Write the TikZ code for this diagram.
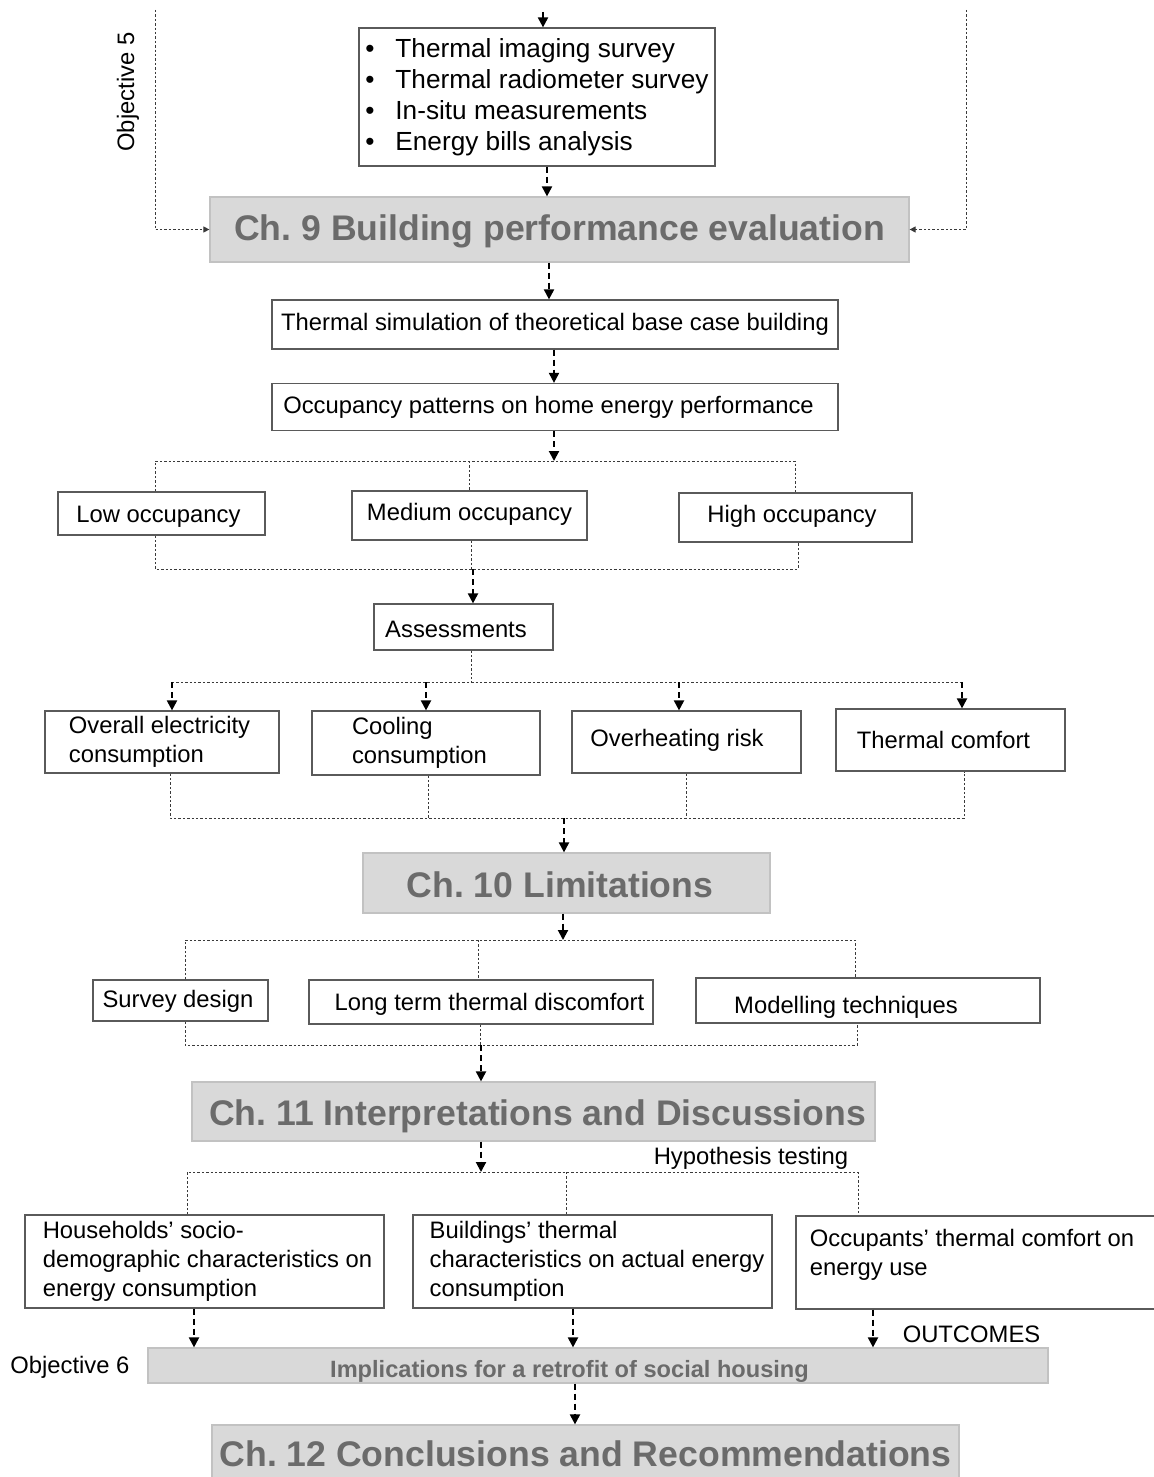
\documentclass[tikz,border=0pt]{standalone}
\usepackage{fontspec}
\setmainfont{Liberation Sans}
\usetikzlibrary{arrows.meta}
\definecolor{hfill}{HTML}{D9D9D9}
\definecolor{hdraw}{HTML}{C2C2C2}
\definecolor{htext}{HTML}{6B6B6B}
\definecolor{bdraw}{HTML}{5A5A5A}
\definecolor{dotc}{HTML}{3A3A3A}
\frenchspacing
\begin{document}
\begin{tikzpicture}[x=0.5pt,y=-0.5pt,
  box/.style={draw=bdraw, line width=0.6pt, fill=white, inner sep=0pt,
    font=\fontsize{11.9}{14.5}\selectfont, align=left},
  % single-line boxes: caps centred on the box
  one/.style={text height=8.6pt, text depth=0pt},
  head/.style={draw=hdraw, line width=0.6pt, fill=hfill, inner sep=0pt,
    text=htext, font=\bfseries\fontsize{17.8}{20}\selectfont,
    text height=12.7pt, text depth=0pt},
  flow/.style={line width=1pt, dash pattern=on 3pt off 2pt,
    -{Triangle[width=5pt,length=5pt]}},
  link/.style={draw=dotc, line width=0.5pt, dash pattern=on 1.2pt off 1pt},
  side/.style={link, -{Triangle[width=3pt,length=3pt]}},
  lbl/.style={inner sep=0pt, font=\fontsize{11.9}{14.5}\selectfont},
]
\useasboundingbox (0,0) rectangle (1153,1477);

% ---- boxes ----
\node[box, minimum width=178pt, minimum height=69pt,
  font=\fontsize{13.1}{15.5}\selectfont] (methods) at (537,97)
  {\makebox[15pt][l]{•}Thermal imaging survey\\
   \makebox[15pt][l]{•}Thermal radiometer survey\\
   \makebox[15pt][l]{•}In-situ measurements\\
   \makebox[15pt][l]{•}Energy bills analysis};
\node[head, minimum width=349.5pt, minimum height=32.5pt, text depth=1.5pt] (ch9) at (559.5,229.5)
  {Ch.\ 9 Building performance evaluation};
\node[box, one, text depth=2.5pt, minimum width=283pt, minimum height=24.5pt] (sim) at (555,324.5)
  {Thermal simulation of theoretical base case building};
\node[box, one, text depth=2pt, minimum width=283pt, minimum height=23.5pt] (occ) at (555,407)
  {Occupancy patterns on home energy performance\hspace*{6.5pt}};
\node[box, one, minimum width=103.5pt, minimum height=21.5pt] (low) at (161.5,513.5)
  {Low occupancy\hspace*{3pt}};
\node[box, one, text depth=3.5pt, minimum width=117.5pt, minimum height=24.5pt] (med) at (469.5,515.5)
  {Medium occupancy};
\node[box, one, text depth=3.5pt, minimum width=116.5pt, minimum height=24.5pt] (high) at (795.5,517.5)
  {High occupancy\hspace*{3.5pt}};
\node[box, one, text height=10.6pt, minimum width=89.5pt, minimum height=23pt] (assess) at (463.5,627)
  {Assessments\hspace*{7.5pt}};
\node[box, minimum width=117pt, minimum height=31pt] (elec) at (162,742)
  {Overall electricity\hspace*{2.5pt}\\consumption};
\node[box, minimum width=114pt, minimum height=32pt] (cool) at (426,743)
  {Cooling\\consumption\hspace*{6.5pt}};
\node[box, one, text depth=4pt, minimum width=114.5pt, minimum height=31pt] (heat) at (686.5,742)
  {Overheating risk\hspace*{9.5pt}};
\node[box, one, minimum width=114.5pt, minimum height=31pt] (comf) at (950.5,740)
  {Thermal comfort\hspace*{7pt}};
\node[head, text height=14.7pt, minimum width=203.5pt, minimum height=30pt] (ch10) at (566.5,883)
  {Ch.\ 10 Limitations\hspace*{6.5pt}};
\node[box, one, text depth=1.5pt, minimum width=87.5pt, minimum height=20.5pt] (sdesign) at (180.5,1000.5)
  {Survey design\hspace*{2.5pt}};
\node[box, one, minimum width=172pt, minimum height=22pt] (longt) at (481,1002)
  {\hspace*{8.5pt}Long term thermal discomfort};
\node[box, one, text height=13.1pt, minimum width=172pt, minimum height=22.5pt] (model) at (868,1000.5)
  {Modelling techniques\hspace*{22pt}};
\node[head, text height=14.2pt, minimum width=341.5pt, minimum height=29.5pt] (ch11) at (533.5,1111.5)
  {\hspace*{4pt}Ch.\ 11 Interpretations and Discussions};
\node[box, minimum width=179.5pt, minimum height=46.5pt] (house) at (204.5,1261.5)
  {\hspace*{3pt}Households’ socio-\\\hspace*{3pt}demographic characteristics on\\\hspace*{3pt}energy consumption};
\node[box, minimum width=179.5pt, minimum height=46.5pt] (bldg) at (592.5,1261.5)
  {\hspace*{4.5pt}Buildings’ thermal\\\hspace*{4.5pt}characteristics on actual energy\\\hspace*{4.5pt}consumption};
\node[box, minimum width=187pt, minimum height=46.5pt] (occup) at (983,1262.5)
  {Occupants’ thermal comfort on\hspace*{11pt}\\energy use\\[-4.5pt]\mbox{}};
\node[head, minimum width=450pt, minimum height=17.5pt,
  font=\bfseries\fontsize{11.8}{14}\selectfont, text height=11.95pt] (impl) at (598,1365.5)
  {Implications for a retrofit of social housing\hspace*{28.5pt}};
\node[head, minimum width=373.5pt, minimum height=28.5pt] (ch12) at (585.5,1453.5)
  {Ch.\ 12 Conclusions and Recommendations};

% ---- free labels ----
\node[lbl, rotate=90] (obj5) at (128,92) {Objective 5};
\node[lbl, anchor=west] (obj6) at (10,1367) {Objective 6};
\node[lbl] (hyp) at (751,1158) {Hypothesis testing};
\node[lbl] (outc) at (971.5,1334) {OUTCOMES};

% ---- junction points ----
\coordinate (topin) at (543,12);
\coordinate (c1) at (547,0);
\coordinate (c2) at (549,0);
\coordinate (c3) at (554,0);
\coordinate (j1) at (554,461);
\coordinate (b1l) at (155,461); \coordinate (b1m) at (469,461); \coordinate (b1r) at (795,461);
\coordinate (b2l) at (155,569); \coordinate (b2m) at (471,569); \coordinate (b2r) at (798,569);
\coordinate (j2) at (473,569);
\coordinate (b3m) at (471,682);
\coordinate (b3a) at (172,682); \coordinate (b3b) at (426,682);
\coordinate (b3c) at (679,682); \coordinate (b3d) at (962,682);
\coordinate (b4a) at (170,818); \coordinate (b4b) at (428,818);
\coordinate (b4c) at (686,818); \coordinate (b4d) at (964,818);
\coordinate (j4) at (564,818);
\coordinate (j5) at (563,940);
\coordinate (b5l) at (185,940); \coordinate (b5m) at (478,940); \coordinate (b5r) at (855,940);
\coordinate (b6l) at (185,1045); \coordinate (b6m) at (480,1045); \coordinate (b6r) at (857,1045);
\coordinate (j6) at (481,1045);
\coordinate (j7) at (481,1172);
\coordinate (b7l) at (187,1172); \coordinate (b7m) at (566,1172); \coordinate (b7r) at (858,1172);
\coordinate (o1) at (194,0); \coordinate (o2) at (573,0);
\coordinate (o3) at (873,0); \coordinate (o4) at (575,0);
\coordinate (s1) at (155,10); \coordinate (s2) at (966,10);

% ---- main flow ----
\draw[flow] (topin) -- (methods.north -| topin);
\draw[flow] (methods.south -| c1) -- (ch9.north -| c1);
\draw[flow] (ch9.south -| c2) -- (sim.north -| c2);
\draw[flow] (sim.south -| c3) -- (occ.north -| c3);
\draw[flow] (occ.south -| j1) -- (j1);

% occupancy levels
\draw[link] (low.north -| b1l) -- (b1l) -- (b1r) -- (high.north -| b1r);
\draw[link] (b1m) -- (med.north -| b1m);
\draw[link] (low.south -| b2l) -- (b2l) -- (b2r) -- (high.south -| b2r);
\draw[link] (med.south -| b2m) -- (b2m);
\draw[flow] (j2) -- (assess.north -| j2);

% assessments
\draw[link] (assess.south -| b3m) -- (b3m);
\draw[link] (b3a) -- (b3d);
\draw[flow] (b3a) -- (elec.north -| b3a);
\draw[flow] (b3b) -- (cool.north -| b3b);
\draw[flow] (b3c) -- (heat.north -| b3c);
\draw[flow] (b3d) -- (comf.north -| b3d);
\draw[link] (elec.south -| b4a) -- (b4a) -- (b4d) -- (comf.south -| b4d);
\draw[link] (cool.south -| b4b) -- (b4b);
\draw[link] (heat.south -| b4c) -- (b4c);
\draw[flow] (j4) -- (ch10.north -| j4);

% limitations
\draw[flow] (ch10.south -| j5) -- (j5);
\draw[link] (sdesign.north -| b5l) -- (b5l) -- (b5r) -- (model.north -| b5r);
\draw[link] (b5m) -- (longt.north -| b5m);
\draw[link] (sdesign.south -| b6l) -- (b6l) -- (b6r) -- (model.south -| b6r);
\draw[link] (longt.south -| b6m) -- (b6m);
\draw[flow] (j6) -- (ch11.north -| j6);

% hypotheses
\draw[flow] (ch11.south -| j7) -- (j7);
\draw[link] (house.north -| b7l) -- (b7l) -- (b7r) -- (occup.north -| b7r);
\draw[link] (b7m) -- (bldg.north -| b7m);
\draw[flow] (house.south -| o1) -- (impl.north -| o1);
\draw[flow] (bldg.south -| o2) -- (impl.north -| o2);
\draw[flow] (occup.south -| o3) -- (impl.north -| o3);
\draw[flow] (impl.south -| o4) -- (ch12.north -| o4);

% objective 5 side feeds
\draw[side] (s1) |- (ch9.west);
\draw[side] (s2) |- (ch9.east);
\end{tikzpicture}
\end{document}
